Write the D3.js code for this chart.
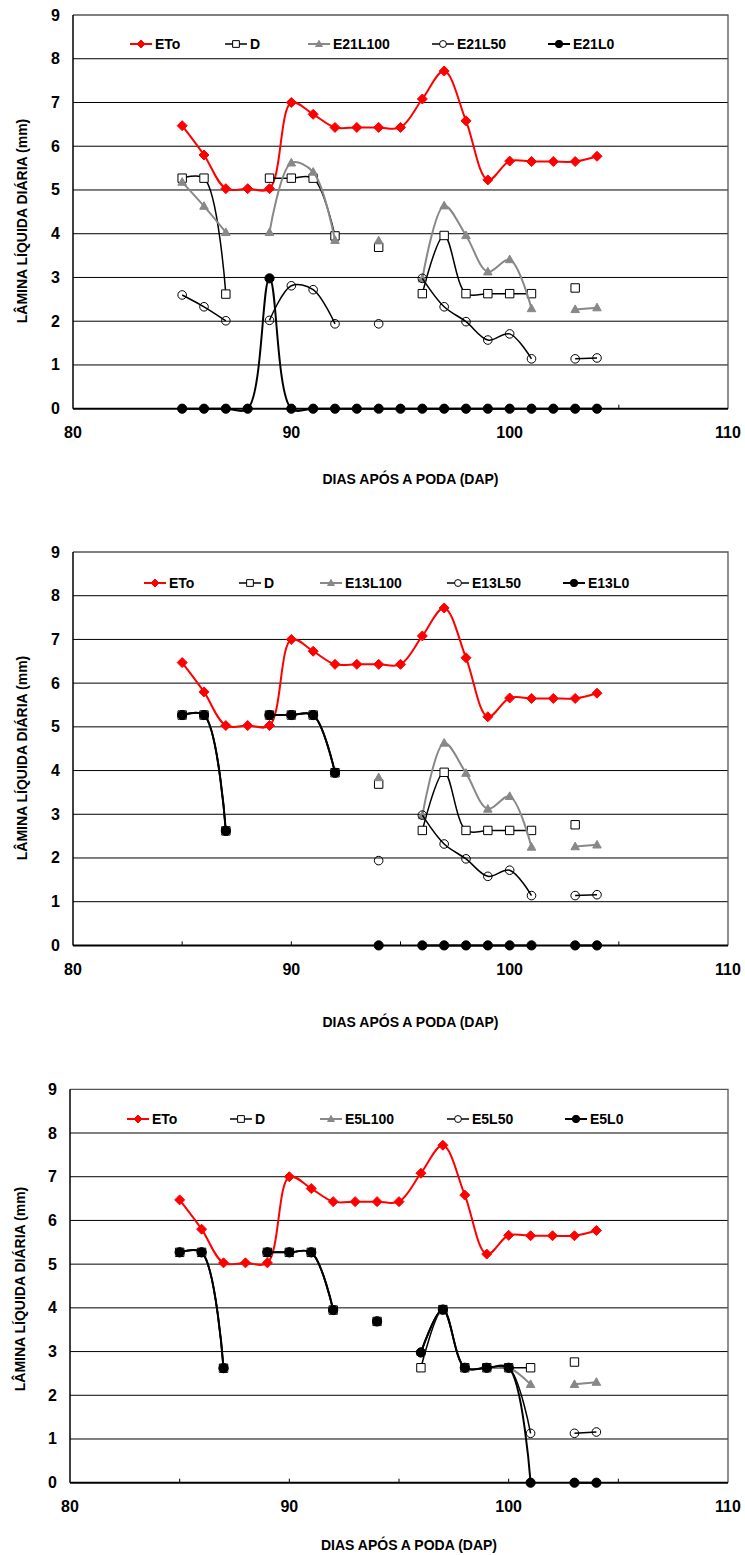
<!DOCTYPE html>
<html>
<head>
<meta charset="utf-8">
<title>Lamina liquida diaria</title>
<script src="https://d3js.org/d3.v7.min.js"></script>
<style>
body { margin: 0; background: #fff; }
text { font-family: "Liberation Sans", Arial, sans-serif; font-weight: bold; fill: #000; }
</style>
</head>
<body>
<script>

// dias apos a poda (DAP)
var days = [85,86,87,88,89,90,91,92,93,94,95,96,97,98,99,100,101,102,103,104];
var xTicks = [80,90,100,110];
var yTicks = [0,1,2,3,4,5,6,7,8,9];

// shared series
var eto  = [6.47,5.8,5.03,5.03,5.03,7.0,6.73,6.43,6.43,6.43,6.43,7.08,7.72,6.58,5.23,5.66,5.65,5.65,5.65,5.77];
var dRef = [5.27,5.27,2.62,null,5.27,5.27,5.27,3.95,null,3.69,null,2.63,3.96,2.63,2.63,2.63,2.63,null,2.76,null];

// panel 1 - E21
var e21L100 = [5.18,4.63,4.03,null,4.03,5.62,5.41,3.85,null,3.84,null,2.97,4.64,3.96,3.13,3.41,2.29,null,2.27,2.31];
var e21L50  = [2.6,2.33,2.01,null,2.02,2.81,2.72,1.94,null,1.94,null,2.98,2.33,1.99,1.57,1.71,1.14,null,1.14,1.16];
var e21L0   = [0,0,0,0,2.98,0,0,0,0,0,0,0,0,0,0,0,0,0,0,0];

// panel 2 - E13
var e13L100 = [5.27,5.27,2.62,null,5.27,5.27,5.27,3.95,null,3.84,null,2.97,4.63,3.94,3.12,3.41,2.25,null,2.26,2.30];
var e13L50  = [5.27,5.27,2.62,null,5.27,5.27,5.27,3.95,null,1.94,null,2.98,2.32,1.98,1.58,1.72,1.14,null,1.14,1.16];
var e13L0   = [5.27,5.27,2.62,null,5.27,5.27,5.27,3.95,null,0,null,0,0,0,0,0,0,null,0,0];

// panel 3 - E5
var e5L100 = [5.27,5.27,2.62,null,5.27,5.27,5.27,3.95,null,3.69,null,2.98,3.96,2.63,2.63,2.63,2.25,null,2.25,2.30];
var e5L50  = [5.27,5.27,2.62,null,5.27,5.27,5.27,3.95,null,3.69,null,2.98,3.96,2.63,2.63,2.63,1.13,null,1.13,1.16];
var e5L0   = [5.27,5.27,2.62,null,5.27,5.27,5.27,3.95,null,3.69,null,2.98,3.96,2.63,2.63,2.63,0,null,0,0];

var svg = d3.select("body").append("svg")
	.attr("width", 745)
	.attr("height", 1555)
	.style("background", "#fff");

// marker shapes, excel style
function markerPath(type, s) {
	if (type == "diamond") return "M0," + (-s) + "L" + s + ",0L0," + s + "L" + (-s) + ",0Z";
	if (type == "square") return "M" + (-s) + "," + (-s) + "h" + (2*s) + "v" + (2*s) + "h" + (-2*s) + "Z";
	if (type == "triangle") return "M0," + (-s) + "L" + (s*0.95) + "," + (s*0.7) + "L" + (-s*0.95) + "," + (s*0.7) + "Z";
	// circle
	return d3.arc()({innerRadius: 0, outerRadius: s, startAngle: 0, endAngle: 2*Math.PI});
}

var styles = [
	{stroke: "#ff0000", width: 2,   marker: "diamond",  size: 5,   fill: "#ff0000", mstroke: "#ff0000"},
	{stroke: "#000",    width: 1.5, marker: "square",   size: 4.2, fill: "#fff",    mstroke: "#000"},
	{stroke: "#888",    width: 2,   marker: "triangle", size: 4.5, fill: "#888",    mstroke: "#888"},
	{stroke: "#000",    width: 1.5, marker: "circle",   size: 4.3, fill: "none",    mstroke: "#000"},
	{stroke: "#000",    width: 2,   marker: "circle",   size: 4.6, fill: "#000",    mstroke: "#000"}
];

function drawPanel(p) {
	var x = d3.scaleLinear().domain([80,110]).range([p.left, p.right]);
	var y = d3.scaleLinear().domain([0,9]).range([p.bottom, p.top]);
	var g = svg.append("g");

	// gridlines
	g.selectAll(".grid").data(yTicks.slice(1, 9)).enter().append("line")
		.attr("x1", p.left).attr("x2", p.right)
		.attr("y1", function(d){return y(d);}).attr("y2", function(d){return y(d);})
		.attr("stroke", "#000").attr("stroke-width", 1);

	// frame top/right
	g.append("path")
		.attr("d", "M" + p.left + "," + y(9) + "H" + p.right + "V" + y(0))
		.attr("fill", "none").attr("stroke", "#555").attr("stroke-width", 1.3);

	// axes
	g.append("line").attr("x1", p.left).attr("x2", p.left).attr("y1", y(9)).attr("y2", y(0))
		.attr("stroke", "#000").attr("stroke-width", 1.5);
	g.append("line").attr("x1", p.left).attr("x2", p.right).attr("y1", y(0)).attr("y2", y(0))
		.attr("stroke", "#000").attr("stroke-width", 2);
	g.selectAll(".xt").data(d3.range(85, 110, 5)).enter().append("line")
		.attr("x1", function(d){return x(d);}).attr("x2", function(d){return x(d);})
		.attr("y1", y(0)).attr("y2", y(0) - 4)
		.attr("stroke", "#000").attr("stroke-width", 1);

	g.selectAll(".yl").data(yTicks).enter().append("text")
		.attr("x", p.left - 13).attr("y", function(d){return y(d);})
		.attr("text-anchor", "end").attr("dominant-baseline", "central")
		.style("font-size", "16px").text(function(d){return d;});
	g.selectAll(".xl").data(xTicks).enter().append("text")
		.attr("x", function(d){return x(d);}).attr("y", y(0) + 24)
		.attr("text-anchor", "middle").attr("dominant-baseline", "central")
		.style("font-size", "16px").text(function(d){return d;});

	g.append("text")
		.attr("transform", "translate(" + p.ylabX + "," + p.ylabY + ") rotate(-90)")
		.attr("text-anchor", "middle").attr("dominant-baseline", "central")
		.style("font-size", "14px").text("LÂMINA LÍQUIDA DIÁRIA (mm)");
	g.append("text")
		.attr("x", (p.left + p.right) / 2 + 10).attr("y", p.xlabY)
		.attr("text-anchor", "middle").attr("dominant-baseline", "central")
		.style("font-size", "14px").text("DIAS APÓS A PODA (DAP)");

	var line = d3.line()
		.defined(function(d){return d.v != null;})
		.x(function(d){return x(d.day);})
		.y(function(d){return y(d.v);})
		.curve(d3.curveCatmullRom.alpha(0.5));

	p.series.forEach(function(vals, i) {
		var st = styles[i];
		var pts = days.map(function(d, k){return {day: d, v: vals[k]};});
		g.append("path").datum(pts)
			.attr("d", line)
			.attr("fill", "none").attr("stroke", st.stroke).attr("stroke-width", st.width);
		g.selectAll(".m" + i).data(pts.filter(function(d){return d.v != null;})).enter().append("path")
			.attr("transform", function(d){return "translate(" + x(d.day) + "," + y(d.v) + ")";})
			.attr("d", markerPath(st.marker, st.size))
			.attr("fill", st.fill).attr("stroke", st.mstroke).attr("stroke-width", 1);

		// legend
		var lx = p.legendX[i], ly = p.legendY;
		g.append("line").attr("x1", lx).attr("x2", lx + 22).attr("y1", ly).attr("y2", ly)
			.attr("stroke", st.stroke).attr("stroke-width", st.width);
		g.append("path").attr("transform", "translate(" + (lx + 11) + "," + ly + ")")
			.attr("d", markerPath(st.marker, st.size * 0.8))
			.attr("fill", st.fill == "none" ? "#fff" : st.fill).attr("stroke", st.mstroke).attr("stroke-width", 1);
		g.append("text").attr("x", lx + 25).attr("y", ly)
			.attr("dominant-baseline", "central").style("font-size", "14px")
			.text(p.labels[i]);
	});
}

drawPanel({
	left: 73, right: 728, top: 15, bottom: 408.7, ylabX: 22, ylabY: 221, xlabY: 479,
	legendY: 44, legendX: [130, 225, 308, 432, 548],
	labels: ["ETo", "D", "E21L100", "E21L50", "E21L0"],
	series: [eto, dRef, e21L100, e21L50, e21L0]
});
drawPanel({
	left: 73, right: 728, top: 552, bottom: 945.4, ylabX: 22, ylabY: 758, xlabY: 1022,
	legendY: 583, legendX: [144, 239, 320, 447, 563],
	labels: ["ETo", "D", "E13L100", "E13L50", "E13L0"],
	series: [eto, dRef, e13L100, e13L50, e13L0]
});
drawPanel({
	left: 70, right: 728, top: 1089.3, bottom: 1482.7, ylabX: 20, ylabY: 1289, xlabY: 1545,
	legendY: 1119, legendX: [127, 230, 320, 447, 565],
	labels: ["ETo", "D", "E5L100", "E5L50", "E5L0"],
	series: [eto, dRef, e5L100, e5L50, e5L0]
});

</script>
</body>
</html>
